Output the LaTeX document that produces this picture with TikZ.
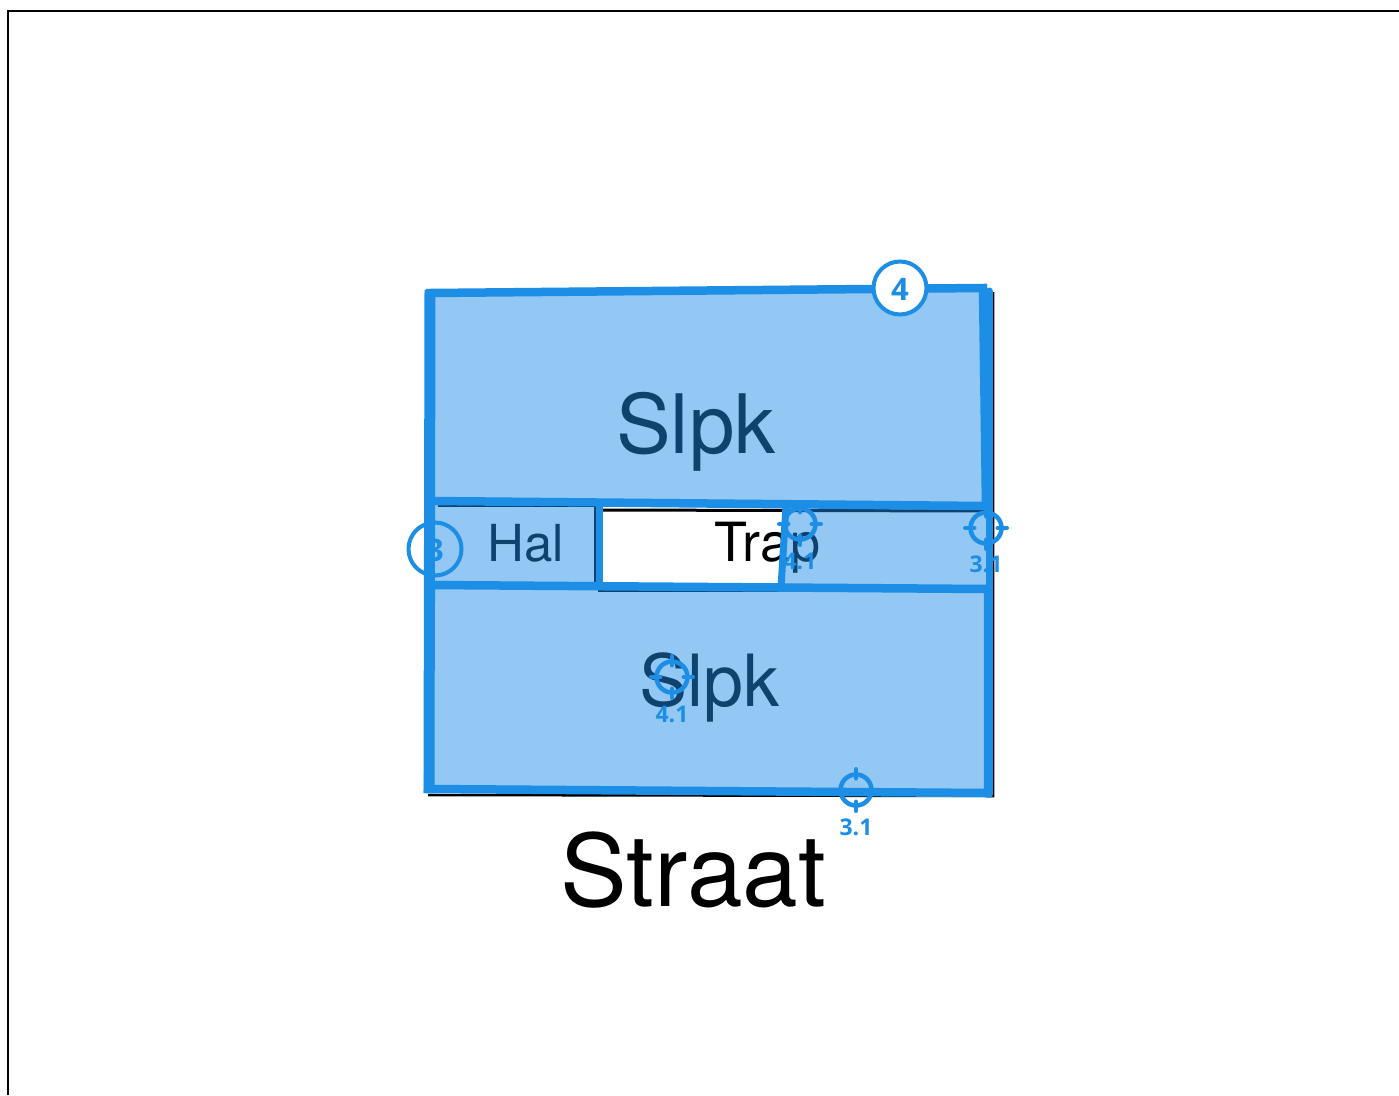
\documentclass[tikz,border=0pt]{standalone}
\usepackage{fontspec}
\setmainfont{TeX Gyre Heros}
\newfontfamily\markfont[Scale=1]{Open Sans}
\definecolor{planblue}{HTML}{1C8EE6}
\begin{document}
\begin{tikzpicture}[
						x=1pt,
						y=-1pt,
						room/.style={draw=planblue,line width=8.5pt,fill=planblue,fill opacity=.48,draw opacity=1},
						wall/.style={draw=planblue,line width=7pt,line cap=round},
						underline/.style={draw=black,line width=2.5pt},
						roomlabel/.style={anchor=base west,inner sep=0pt,text=black},
						badge/.style={circle,draw=planblue,line width=4pt,minimum size=53pt,inner sep=0pt},
						badgetext/.style={inner sep=0pt,text=planblue,font=\markfont\bfseries\fontsize{31}{31}\selectfont},
						target/.style={circle,draw=planblue,line width=4.5pt,minimum size=31pt,inner sep=0pt},
						targettick/.style={draw=planblue,line width=4.5pt,line cap=round},
						targettext/.style={inner sep=0pt,text=planblue,font=\markfont\bfseries\fontsize{23}{23}\selectfont}
					]
					\useasboundingbox (0,0) rectangle (1399,1095);
					\fill[white] (0,0) rectangle (1399,1095);
					\coordinate (framea) at (8,1095);
					\coordinate (frameb) at (8,11);
					\coordinate (framec) at (1399,11);
					\draw[black,line width=2pt] (framea) -- (frameb) -- (framec);
					% under the blue
					\node[circle,fill=white,minimum size=53pt] (halwhite) at (435,549) {};
					\draw[underline] (438,506) -- (595,506) -- (595,586);
					\draw[underline,line width=3pt] (603,510) -- (990,511);
					\draw[underline,line width=2pt] (598,591) -- (782,591);
					\draw[underline] (993,292) -- (993,796) -- (428,795);
					\node[roomlabel,font=\fontsize{82}{82}\selectfont] (slpktop) at (616,453) {Slpk};
					\node[roomlabel,font=\fontsize{72}{72}\selectfont] (slpkbottom) at (639,706) {Slpk};
					\node[roomlabel,font=\fontsize{51}{51}\selectfont] (hal) at (487,561) {Hal};
					\node[roomlabel,font=\fontsize{54}{54}\selectfont] (trap) at (714,561) {Trap};
					\node[roomlabel,font=\fontsize{100}{100}\selectfont] (straat) at (560,906) {Straat};
					% rooms
					\draw[room] (430,293) -- (983,288) -- (986,506) -- (430,501) -- cycle;
					\fill[planblue,fill opacity=.48] (432,505) -- (596,507) -- (596,585) -- (432,584) -- cycle;
					\fill[planblue,fill opacity=.48] (783,508) -- (988,510) -- (988,588) -- (781,587) -- cycle;
					\draw[room] (431,585) -- (988,589) -- (988,793) -- (428,789) -- cycle;
					\draw[wall] (989,291) -- (989,794);
					\draw[planblue,line width=7.5pt] (599.3,506) -- (599.3,586);
					\draw[planblue,line width=7pt] (786,506) -- (781,588);
					\draw[planblue,line width=11pt] (430,290) -- (429,793);
					% markers
					\node[badge,fill=white] (four) at (900,288) {};
					\node[badgetext] (fourtext) at (900,289) {4};
					\node[badge] (three) at (435,549) {};
					\node[badgetext] (threetext) at (435,550) {3};
					\foreach \name/\tx/\ty/\lx/\ly/\lab in {
						ta/800/524/800/561/4.1,
						tb/986/528/986/564/3.1,
						tc/672/677/672/714/4.1,
						td/856/790/856/827/3.1}{
						\node[target] (\name) at (\tx,\ty) {};
						\node[targettext] (\name label) at (\lx,\ly) {\lab};
						\draw[targettick] (\name.north) ++(0,-3) -- ++(0,9);
						\draw[targettick] (\name.south) ++(0,3) -- ++(0,-9);
						\draw[targettick] (\name.west) ++(-3,0) -- ++(9,0);
						\draw[targettick] (\name.east) ++(3,0) -- ++(-9,0);
					}
				\end{tikzpicture}
\end{document}
